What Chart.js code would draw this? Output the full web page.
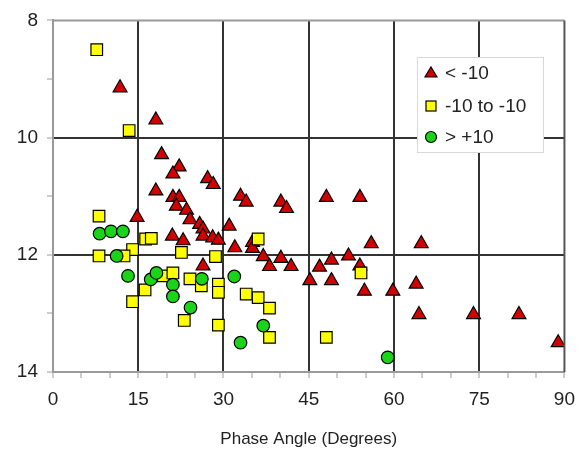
<!DOCTYPE html>
<html>
<head>
<meta charset="utf-8">
<script src="https://cdn.jsdelivr.net/npm/chart.js@4.4.1/dist/chart.umd.min.js"></script>
<style>
  html, body { margin: 0; padding: 0; background: #fff; }
</style>
</head>
<body>
<canvas id="phase-chart" width="585" height="454"></canvas>
<script>
// series labels
var seriesNames = ["< -10", "-10 to -10", "> +10"];

// x tick labels (every 15 degrees), y tick labels
var xTicks = [0, 15, 30, 45, 60, 75, 90];
var yTicks = [8, 10, 12, 14];

// "< -10" (red triangles)
var lowAngle = [11.8, 18.1, 19.1, 22.2, 21.1, 27.2, 28.2, 18.1, 21.1, 22.2, 21.7, 23.5, 24.1, 25.8, 26.4, 26.4, 28.1, 29.1,
  14.8, 33.0, 34.0, 40.1, 41.1, 31.0, 32.0, 35.1, 35.1, 37.0, 40.1, 26.4, 38.1, 41.9, 48.1, 54.0, 56.0, 64.8,
  46.9, 49.0, 52.0, 54.0, 45.2, 49.0, 54.8, 59.8, 63.9, 64.4, 74.0, 82.0, 88.9, 21.0, 22.9];
var lowValue = [9.15, 9.70, 10.29, 10.50, 10.62, 10.70, 10.80, 10.91, 11.02, 11.02, 11.17, 11.24, 11.40, 11.48, 11.56, 11.68, 11.71, 11.75,
  11.36, 11.00, 11.10, 11.10, 11.21, 11.51, 11.88, 11.79, 11.89, 12.03, 12.06, 12.19, 12.20, 12.20, 11.02, 11.02, 11.81, 11.81,
  12.21, 12.09, 12.02, 12.19, 12.44, 12.44, 12.62, 12.62, 12.50, 13.02, 13.02, 13.02, 13.50, 11.68, 11.76];

// "-10 to -10" (yellow squares)
var midAngle = [7.7, 13.4, 8.1, 16.3, 17.3, 14.0, 8.1, 12.5, 22.6, 28.6, 36.1, 54.2, 19.4, 21.1,
  16.2, 14.0, 24.1, 26.1, 29.1, 29.1, 23.1, 29.1, 34.0, 36.1, 38.1, 38.1, 48.1];
var midValue = [8.50, 9.88, 11.34, 11.73, 11.72, 11.91, 12.02, 12.02, 11.96, 12.03, 11.73, 12.31, 12.36, 12.31,
  12.60, 12.80, 12.41, 12.53, 12.50, 12.64, 13.12, 13.20, 12.67, 12.73, 12.91, 13.41, 13.41];

// "> +10" (green circles)
var highAngle = [8.2, 10.2, 12.3, 11.2, 13.2, 17.2, 18.2, 21.1, 21.1, 26.2, 31.9, 24.2, 37.0, 33.0, 58.9];
var highValue = [11.64, 11.60, 11.60, 12.02, 12.36, 12.42, 12.31, 12.51, 12.71, 12.41, 12.37, 12.90, 13.21, 13.50, 13.75];

var redFill = "#d20000";
var yellowFill = "#ffff00";
var greenFill = "#19d419";
var fontFamily = "'Liberation Sans', Arial, sans-serif";

function toPoints(xs, ys) {
  var pts = [];
  for (var i = 0; i < xs.length; i++) pts.push({ x: xs[i], y: ys[i] });
  return pts;
}

// frame around plot area + legend box inside the plot
var framePlugin = {
  id: "frameAndLegend",
  afterDatasetsDraw: function(chart) {
    var ctx = chart.ctx;
    var a = chart.chartArea;
    ctx.save();
    ctx.strokeStyle = "#9a9a9a";
    ctx.lineWidth = 2;
    ctx.beginPath();
    ctx.moveTo(a.left, a.top);
    ctx.lineTo(a.right, a.top);
    ctx.stroke();
    ctx.strokeStyle = "#555";
    ctx.beginPath();
    ctx.moveTo(a.right, a.top);
    ctx.lineTo(a.right, a.bottom);
    ctx.stroke();

    // legend
    var bx = 417, by = 57, bw = 126, bh = 95;
    ctx.fillStyle = "#fff";
    ctx.fillRect(bx, by, bw, bh);
    ctx.strokeStyle = "#d8d8d8";
    ctx.lineWidth = 1;
    ctx.strokeRect(bx + 0.5, by + 0.5, bw, bh);

    var rows = [73, 106, 137];
    var mx = 431;
    ctx.lineWidth = 1.2;
    ctx.strokeStyle = "#000";

    // triangle
    ctx.fillStyle = redFill;
    ctx.beginPath();
    ctx.moveTo(mx, rows[0] - 6);
    ctx.lineTo(mx + 6, rows[0] + 4);
    ctx.lineTo(mx - 6, rows[0] + 4);
    ctx.closePath();
    ctx.fill();
    ctx.stroke();
    // square
    ctx.fillStyle = yellowFill;
    ctx.fillRect(mx - 5, rows[1] - 5, 10, 10);
    ctx.strokeRect(mx - 5, rows[1] - 5, 10, 10);
    // circle
    ctx.fillStyle = greenFill;
    ctx.beginPath();
    ctx.arc(mx, rows[2], 5.5, 0, Math.PI * 2);
    ctx.fill();
    ctx.stroke();

    ctx.fillStyle = "#222";
    ctx.font = "19px " + fontFamily;
    ctx.textBaseline = "middle";
    ctx.textAlign = "left";
    for (var i = 0; i < seriesNames.length; i++) {
      ctx.fillText(seriesNames[i], 445, rows[i] + 1);
    }
    ctx.restore();
  }
};

new Chart(document.getElementById("phase-chart"), {
  type: "scatter",
  data: {
    datasets: [{
      label: seriesNames[0],
      data: toPoints(lowAngle, lowValue),
      pointStyle: "triangle",
      pointRadius: 8,
      backgroundColor: redFill,
      borderColor: "#000",
      borderWidth: 1.2,
      order: 2
    }, {
      label: seriesNames[1],
      data: toPoints(midAngle, midValue),
      pointStyle: "rect",
      pointRadius: 8.2,
      backgroundColor: yellowFill,
      borderColor: "#000",
      borderWidth: 1.2,
      order: 1
    }, {
      label: seriesNames[2],
      data: toPoints(highAngle, highValue),
      pointStyle: "circle",
      pointRadius: 6.3,
      backgroundColor: greenFill,
      borderColor: "#000",
      borderWidth: 1.2,
      order: 0
    }]
  },
  options: {
    responsive: false,
    animation: false,
    layout: { padding: { top: 18, right: 20, left: 0, bottom: 0 } },
    plugins: {
      legend: { display: false },
      tooltip: { enabled: false }
    },
    scales: {
      x: {
        type: "linear",
        min: xTicks[0],
        max: xTicks[xTicks.length - 1],
        afterFit: function(scale) { scale.height = 82; },
        ticks: {
          stepSize: 5,
          autoSkip: false,
          maxRotation: 0,
          padding: 10,
          color: "#222",
          font: { family: fontFamily, size: 19 },
          callback: function(v) { return xTicks.indexOf(v) >= 0 ? String(v) : ""; }
        },
        grid: {
          lineWidth: 2,
          tickLength: 6,
          tickWidth: 1,
          tickColor: "#9a9a9a",
          color: function(c) {
            var v = c.tick ? c.tick.value : null;
            if (v === null || v === 0 || v === 90) return "rgba(0,0,0,0)";
            return v % 15 === 0 ? "#333" : "rgba(0,0,0,0)";
          }
        },
        border: { color: "#9a9a9a", width: 2 },
        title: {
          display: true,
          text: "Phase Angle (Degrees)",
          color: "#222",
          font: { family: fontFamily, size: 17 },
          padding: { top: 14 }
        }
      },
      y: {
        type: "linear",
        reverse: true,
        min: yTicks[0],
        max: yTicks[yTicks.length - 1],
        afterFit: function(scale) { scale.width = 53; },
        ticks: {
          stepSize: 1,
          autoSkip: false,
          padding: 9,
          color: "#222",
          font: { family: fontFamily, size: 19 },
          callback: function(v) { return yTicks.indexOf(v) >= 0 ? String(v) : ""; }
        },
        grid: {
          lineWidth: 2,
          tickLength: 6,
          tickWidth: 1,
          tickColor: "#9a9a9a",
          color: function(c) {
            var v = c.tick ? c.tick.value : null;
            return (v === 10 || v === 12) ? "#333" : "rgba(0,0,0,0)";
          }
        },
        border: { color: "#9a9a9a", width: 2 }
      }
    }
  },
  plugins: [framePlugin]
});
</script>
</body>
</html>
